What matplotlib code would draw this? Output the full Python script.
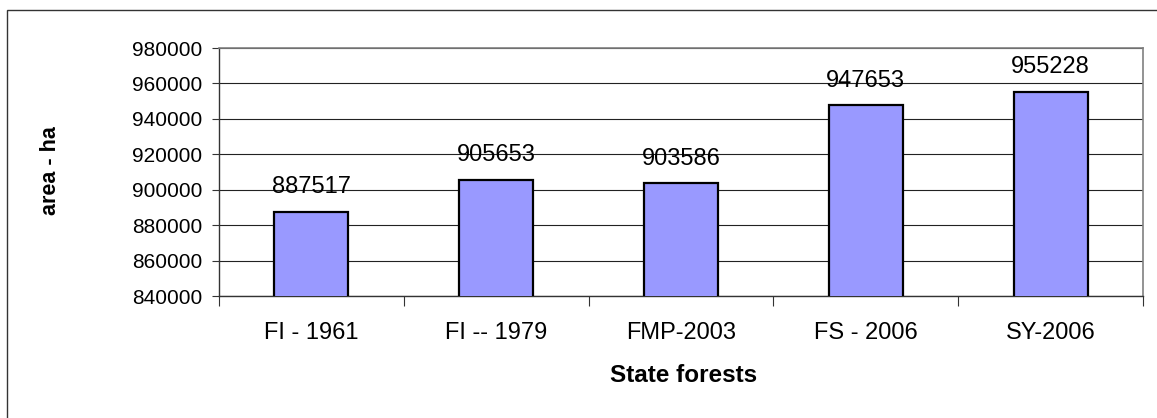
import numpy as np
import matplotlib
matplotlib.use("Agg")
from matplotlib import pyplot as plt
from matplotlib.patches import Rectangle

# data
categories = ["FI - 1961", "FI -- 1979", "FMP-2003", "FS - 2006", "SY-2006"]
area_ha = [887517, 905653, 903586, 947653, 955228]
y_ticks = [840000, 860000, 880000, 900000, 920000, 940000, 960000, 980000]

plt.rcParams['font.family'] = ['Liberation Sans', 'DejaVu Sans']

W, H = 1157, 418
fig = plt.figure(figsize=(W / 100, H / 100), dpi=100)
fig.patch.set_facecolor('white')

# plot area in pixels: left 219, right 1143, top 48, bottom 296
ax = fig.add_axes([219 / W, 1 - 296 / H, (1143 - 219) / W, (296 - 48) / H])

x = np.arange(len(categories))
ax.bar(x, area_ha, width=0.4, color='#9999FF', edgecolor='black', linewidth=1.6, zorder=3)

for xi, v in zip(x, area_ha):
    ax.annotate(f"{v}", (xi, v), xytext=(0, 13.5), textcoords='offset points',
                ha='center', va='baseline', fontsize=17, color='black', zorder=4)

ax.set_xlim(-0.5, len(categories) - 0.5)
ax.set_ylim(y_ticks[0], y_ticks[-1])
ax.set_yticks(y_ticks)
ax.set_yticklabels([str(t) for t in y_ticks], fontsize=15)
ax.yaxis.grid(True, color='#222222', linewidth=0.8, zorder=0)
ax.set_axisbelow(True)

# category labels centred, tick marks at the boundaries
ax.set_xticks(x)
ax.set_xticklabels(categories, fontsize=17)
ax.tick_params(axis='x', which='major', length=0, pad=19)
ax.set_xticks(np.arange(-0.5, len(categories)), minor=True)
ax.tick_params(axis='x', which='minor', length=7, width=0.8, color='#333333', direction='out')
ax.tick_params(axis='y', length=5, width=0.8, color='#333333', pad=7)

for side in ['top', 'right']:
    ax.spines[side].set_color('#808080')
    ax.spines[side].set_linewidth(1.2)
for side in ['left', 'bottom']:
    ax.spines[side].set_color('#333333')
    ax.spines[side].set_linewidth(1.0)

fig.text(50 / W, 1 - 171 / H, "area - ha", rotation=90, ha='center', va='center',
         fontsize=15.5, fontweight='bold')
fig.text(684 / W, 1 - 375 / H, "State forests", ha='center', va='center',
         fontsize=17.5, fontweight='bold')

# outer chart frame, cut off at right and bottom
fig.patches.append(Rectangle((7 / W, -0.1), 2.0, 1.1 - 10 / H, transform=fig.transFigure,
                             fill=False, edgecolor='#333333', linewidth=1.0))

fig.savefig("out.png", dpi=100)
